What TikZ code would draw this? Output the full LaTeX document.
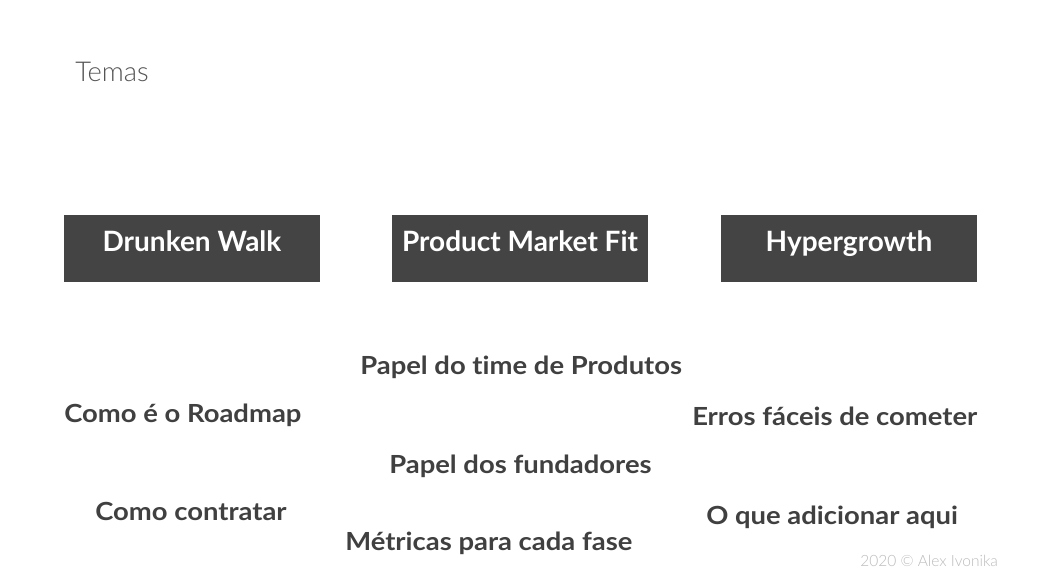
\documentclass[tikz,border=0pt]{standalone}
\usepackage{fontspec}
\setmainfont{Lato}[Ligatures=NoCommon]
\newfontfamily\lightfont{Lato Light}
\newfontfamily\itemfont{Lato}[FakeStretch=1.1,Ligatures=NoCommon]
\definecolor{boxgray}{HTML}{444444}
\definecolor{txtgray}{HTML}{404040}
\definecolor{titlegray}{HTML}{555555}
\definecolor{footgray}{HTML}{BBBBBB}
\begin{document}
\begin{tikzpicture}[x=0.75pt,y=-0.75pt,
  topicbox/.style={fill=boxgray,draw=none,minimum width=192pt,minimum height=50pt,inner sep=0pt,anchor=north west},
  boxtitle/.style={text=white,font=\bfseries\fontsize{21}{24}\selectfont,anchor=base,inner sep=0pt},
  item/.style={text=txtgray,font=\itemfont\bfseries\fontsize{18.7}{22}\selectfont,anchor=base west,inner sep=0pt}]
\useasboundingbox[fill=white] (0,0) rectangle (1040,586);
\node[anchor=base west,inner sep=0pt,text=titlegray,font=\lightfont\fontsize{20.5}{24}\selectfont] (temas) at (75,81) {Temas};
\node[topicbox] (b1) at (64,215) {};
\node[topicbox] (b2) at (392,215) {};
\node[topicbox] (b3) at (721,215) {};
\node[boxtitle] (t1) at (192,251) {Drunken Walk};
\node[boxtitle] (t2) at (520,251) {Product Market Fit};
\node[boxtitle] (t3) at (849,251) {Hypergrowth};
\node[item] (i1) at (360,374) {Papel do time de Produtos};
\node[item] (i2) at (64,422) {Como é o Roadmap};
\node[item] (i3) at (692,425) {Erros fáceis de cometer};
\node[item] (i4) at (389,473) {Papel dos fundadores};
\node[item] (i5) at (95,520) {Como contratar};
\node[item] (i6) at (706,524) {O que adicionar aqui};
\node[item] (i7) at (345,550) {Métricas para cada fase};
\node[anchor=base west,inner sep=0pt,text=footgray,font=\lightfont\fontsize{11.65}{14}\selectfont] (foot) at (860,566) {2020 © Alex Ivonika};
\end{tikzpicture}
\end{document}
